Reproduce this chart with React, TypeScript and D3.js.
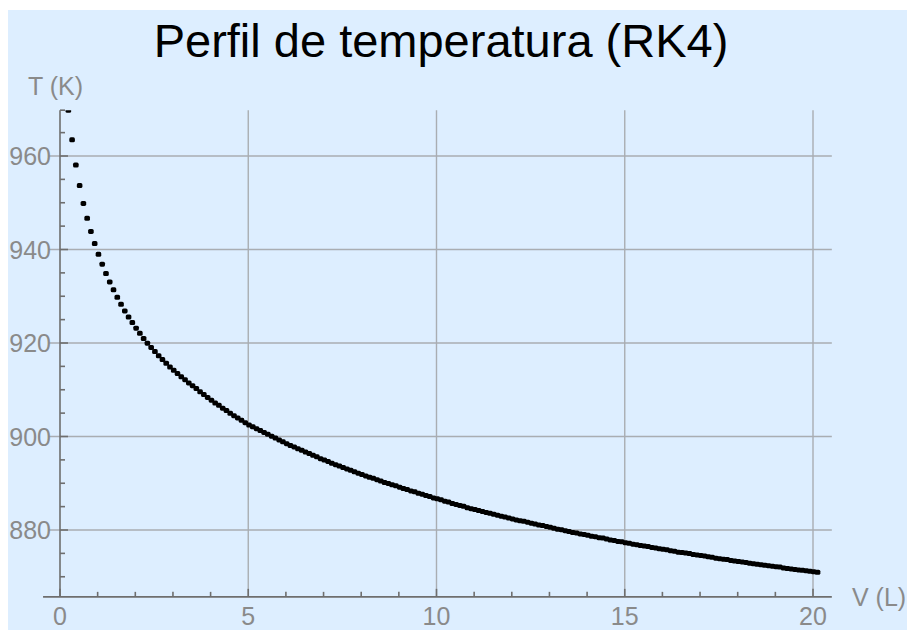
import React from "react";
import * as d3 from "d3";

const TITLE = "Perfil de temperatura (RK4)";
const X_LABEL = "V (L)";
const Y_LABEL = "T (K)";

const X_MAJOR = [0, 5, 10, 15, 20];
const X_MINOR = [1, 2, 3, 4, 6, 7, 8, 9, 11, 12, 13, 14, 16, 17, 18, 19];
const Y_MAJOR = [880, 900, 920, 940, 960];
const Y_MINOR = [870, 875, 885, 890, 895, 905, 910, 915, 925, 930, 935, 945, 950, 955, 965];

// visible axis extents (data units)
const X_EXTENT = [-0.45, 20.5];
const Y_EXTENT = [865.7, 969.8];

const volumes = [
  0.2, 0.3, 0.4, 0.5, 0.6, 0.7, 0.8, 0.9,
  1.0, 1.1, 1.2, 1.3, 1.4, 1.5, 1.6, 1.7, 1.8, 1.9,
  2.0, 2.1, 2.2, 2.3, 2.4, 2.5, 2.6, 2.7, 2.8, 2.9,
  3.0, 3.1, 3.2, 3.3, 3.4, 3.5, 3.6, 3.7, 3.8, 3.9,
  4.0, 4.1, 4.2, 4.3, 4.4, 4.5, 4.6, 4.7, 4.8, 4.9,
  5.0, 5.1, 5.2, 5.3, 5.4, 5.5, 5.6, 5.7, 5.8, 5.9,
  6.0, 6.1, 6.2, 6.3, 6.4, 6.5, 6.6, 6.7, 6.8, 6.9,
  7.0, 7.1, 7.2, 7.3, 7.4, 7.5, 7.6, 7.7, 7.8, 7.9,
  8.0, 8.1, 8.2, 8.3, 8.4, 8.5, 8.6, 8.7, 8.8, 8.9,
  9.0, 9.1, 9.2, 9.3, 9.4, 9.5, 9.6, 9.7, 9.8, 9.9,
  10.0, 10.1, 10.2, 10.3, 10.4, 10.5, 10.6, 10.7, 10.8, 10.9,
  11.0, 11.1, 11.2, 11.3, 11.4, 11.5, 11.6, 11.7, 11.8, 11.9,
  12.0, 12.1, 12.2, 12.3, 12.4, 12.5, 12.6, 12.7, 12.8, 12.9,
  13.0, 13.1, 13.2, 13.3, 13.4, 13.5, 13.6, 13.7, 13.8, 13.9,
  14.0, 14.1, 14.2, 14.3, 14.4, 14.5, 14.6, 14.7, 14.8, 14.9,
  15.0, 15.1, 15.2, 15.3, 15.4, 15.5, 15.6, 15.7, 15.8, 15.9,
  16.0, 16.1, 16.2, 16.3, 16.4, 16.5, 16.6, 16.7, 16.8, 16.9,
  17.0, 17.1, 17.2, 17.3, 17.4, 17.5, 17.6, 17.7, 17.8, 17.9,
  18.0, 18.1, 18.2, 18.3, 18.4, 18.5, 18.6, 18.7, 18.8, 18.9,
  19.0, 19.1, 19.2, 19.3, 19.4, 19.5, 19.6, 19.7, 19.8, 19.9,
  20.0, 20.1,
];

const temperatures = [
  969.7, 963.4, 958.0, 953.6, 949.8, 946.6, 943.8, 941.2,
  938.9, 936.8, 934.8, 933.0, 931.3, 929.7, 928.2, 926.8, 925.5, 924.3,
  923.1, 922.0, 920.9, 919.9, 919.0, 918.1, 917.2, 916.4, 915.6, 914.8,
  914.1, 913.4, 912.7, 912.1, 911.4, 910.8, 910.2, 909.5, 908.9, 908.3,
  907.7, 907.1, 906.6, 906.0, 905.5, 904.9, 904.4, 903.9, 903.4, 902.9,
  902.4, 902.0, 901.6, 901.2, 900.8, 900.4, 900.0, 899.6, 899.2, 898.8,
  898.4, 898.0, 897.7, 897.3, 897.0, 896.6, 896.3, 895.9, 895.6, 895.2,
  894.9, 894.6, 894.2, 893.9, 893.6, 893.3, 893.0, 892.7, 892.4, 892.1,
  891.8, 891.5, 891.2, 891.0, 890.7, 890.4, 890.1, 889.9, 889.6, 889.4,
  889.1, 888.8, 888.6, 888.3, 888.1, 887.8, 887.6, 887.3, 887.1, 886.8,
  886.6, 886.4, 886.1, 885.9, 885.6, 885.4, 885.2, 885.0, 884.7, 884.5,
  884.3, 884.1, 883.9, 883.7, 883.5, 883.3, 883.1, 882.9, 882.7, 882.5,
  882.3, 882.1, 881.9, 881.8, 881.6, 881.4, 881.2, 881.0, 880.9, 880.7,
  880.5, 880.3, 880.1, 880.0, 879.8, 879.6, 879.4, 879.3, 879.1, 879.0,
  878.8, 878.6, 878.5, 878.3, 878.2, 878.0, 877.8, 877.7, 877.5, 877.4,
  877.2, 877.1, 876.9, 876.8, 876.6, 876.5, 876.4, 876.2, 876.1, 875.9,
  875.8, 875.7, 875.5, 875.4, 875.2, 875.1, 875.0, 874.9, 874.7, 874.6,
  874.5, 874.4, 874.2, 874.1, 873.9, 873.8, 873.7, 873.6, 873.4, 873.3,
  873.2, 873.1, 873.0, 872.8, 872.7, 872.6, 872.5, 872.4, 872.3, 872.2,
  872.1, 872.0, 871.8, 871.7, 871.6, 871.5, 871.4, 871.3, 871.2, 871.1,
  871.0, 870.9,
];

const W = 907;
const H = 630;
const FONT = "'Liberation Sans', Arial, sans-serif";
const AXIS_COLOR = "#6e6e6e";
const GRID_COLOR = "#a9adb2";
const LABEL_COLOR = "#8a8a8a";

export default function App() {
  const x = d3.scaleLinear().domain([0, 20]).range([60, 813]);
  const y = d3.scaleLinear().domain([880, 960]).range([530, 156]);

  const x0 = x(0);
  const y0 = y(Y_EXTENT[0]);
  const yTop = y(Y_EXTENT[1]);
  const xLeft = x(X_EXTENT[0]);
  const xRight = x(X_EXTENT[1]);

  const points = volumes.map((v, i) => ({ v, t: temperatures[i] }));
  const S = 5.6;

  return (
    <svg
      width={W}
      height={H}
      style={{ position: "absolute", left: 0, top: 0, display: "block" }}
      fontFamily={FONT}
    >
      <rect x={0} y={0} width={W} height={H} fill="#ffffff" />
      <rect x={8} y={10} width={W - 8} height={H - 10} fill="#ddeeff" />

      <defs>
        <clipPath id="plotClip">
          <rect x={xLeft} y={yTop} width={xRight - xLeft} height={y0 - yTop} />
        </clipPath>
      </defs>

      {/* grid */}
      <g stroke={GRID_COLOR} strokeWidth={1.4}>
        {X_MAJOR.filter((d) => d !== 0).map((d) => (
          <line key={"gx" + d} x1={x(d)} x2={x(d)} y1={yTop} y2={y0} />
        ))}
        {Y_MAJOR.map((d) => (
          <line key={"gy" + d} x1={xLeft + 5} x2={xRight} y1={y(d)} y2={y(d)} />
        ))}
      </g>

      {/* axes */}
      <g stroke={AXIS_COLOR} strokeWidth={1.6}>
        <line x1={xLeft} x2={xRight} y1={y0} y2={y0} />
        <line x1={x0} x2={x0} y1={yTop} y2={y0} />
        {X_MAJOR.map((d) => (
          <line key={"xM" + d} x1={x(d)} x2={x(d)} y1={y0} y2={y0 - 8} />
        ))}
        {X_MINOR.map((d) => (
          <line key={"xm" + d} x1={x(d)} x2={x(d)} y1={y0} y2={y0 - 5} />
        ))}
        {Y_MAJOR.map((d) => (
          <line key={"yM" + d} x1={x0} x2={x0 + 8} y1={y(d)} y2={y(d)} />
        ))}
        {Y_MINOR.map((d) => (
          <line key={"ym" + d} x1={x0} x2={x0 + 5} y1={y(d)} y2={y(d)} />
        ))}
        <line x1={x0} x2={x0 + 5} y1={yTop} y2={yTop} />
      </g>

      {/* tick labels */}
      <g fill={LABEL_COLOR} fontSize={25}>
        {X_MAJOR.map((d) => (
          <text key={"xl" + d} x={x(d)} y={625} textAnchor="middle">
            {d}
          </text>
        ))}
        {Y_MAJOR.map((d) => (
          <text key={"yl" + d} x={51} y={y(d)} textAnchor="end" dominantBaseline="central">
            {d}
          </text>
        ))}
        <text x={28} y={95}>{Y_LABEL}</text>
        <text x={852} y={606}>{X_LABEL}</text>
      </g>

      {/* title */}
      <text x={441} y={57} textAnchor="middle" fontSize={47} fill="#000">
        {TITLE}
      </text>

      {/* data points */}
      <g clipPath="url(#plotClip)" fill="#000">
        {points.map((p, i) => (
          <rect
            key={i}
            x={x(p.v) - S / 2 + 0.8}
            y={y(p.t) - S / 2}
            width={S}
            height={S - 0.6}
            rx={1.6}
          />
        ))}
      </g>
    </svg>
  );
}
